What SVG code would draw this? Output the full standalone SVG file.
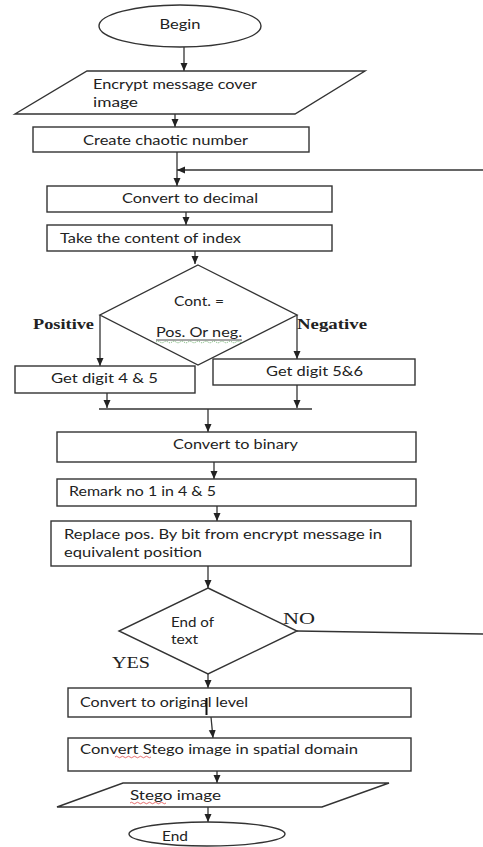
<svg xmlns="http://www.w3.org/2000/svg" width="483" height="847" viewBox="0 0 483 847">
<style>
.s{fill:#fff;stroke:#333;stroke-width:1.4}
.c{stroke:#333;stroke-width:1.3;fill:none}
.t{font-family:Lato,"Open Sans","Liberation Sans",sans-serif;font-size:14px;fill:#222}
.b{font-family:"Liberation Serif",serif;font-size:15px;font-weight:bold;fill:#222}
.r{font-family:"Liberation Serif",serif;font-size:16px;font-weight:normal;fill:#222}
.m{text-anchor:middle}
</style>
<defs>
<marker id="a" markerUnits="userSpaceOnUse" markerWidth="8" markerHeight="8" refX="8" refY="4" orient="auto">
<path d="M0,0.5 L8,4 L0,7.5 z" fill="#222"/>
</marker>
</defs>
<g id="connectors">
<line class="c" x1="184" y1="47" x2="184" y2="71" marker-end="url(#a)"/>
<line class="c" x1="175" y1="114" x2="175" y2="127" marker-end="url(#a)"/>
<line class="c" x1="177" y1="152" x2="177" y2="186" marker-end="url(#a)"/>
<line class="c" x1="483" y1="170" x2="177" y2="170" marker-end="url(#a)"/>
<line class="c" x1="186" y1="212" x2="186" y2="225" marker-end="url(#a)"/>
<line class="c" x1="195" y1="251" x2="195" y2="264" marker-end="url(#a)"/>
<line class="c" x1="100" y1="315" x2="100" y2="366" marker-end="url(#a)"/>
<line class="c" x1="297" y1="315" x2="297" y2="359" marker-end="url(#a)"/>
<line class="c" x1="107" y1="393" x2="107" y2="408" marker-end="url(#a)"/>
<line class="c" x1="297" y1="385" x2="297" y2="408" marker-end="url(#a)"/>
<line class="c" x1="99" y1="409" x2="312" y2="409"/>
<line class="c" x1="208" y1="409" x2="208" y2="432" marker-end="url(#a)"/>
<line class="c" x1="214" y1="462" x2="214" y2="479" marker-end="url(#a)"/>
<line class="c" x1="217" y1="506" x2="217" y2="521" marker-end="url(#a)"/>
<line class="c" x1="208" y1="566" x2="208" y2="588" marker-end="url(#a)"/>
<line class="c" x1="297" y1="631" x2="483" y2="634"/>
<line class="c" x1="208" y1="674" x2="208" y2="688" marker-end="url(#a)"/>
<line class="c" x1="211" y1="717" x2="213" y2="738" marker-end="url(#a)"/>
<line class="c" x1="217" y1="771" x2="217" y2="783" marker-end="url(#a)"/>
<line class="c" x1="208" y1="807" x2="208" y2="822" marker-end="url(#a)"/>
</g>
<g id="begin">
<ellipse class="s" cx="180" cy="26" rx="81" ry="21"/>
<text class="t m" x="180" y="29" textLength="41" lengthAdjust="spacingAndGlyphs">Begin</text>
</g>
<g id="input">
<polygon class="s" points="87,71 365,71 295,114 15,114"/>
<text class="t" x="93" y="89" textLength="164" lengthAdjust="spacingAndGlyphs">Encrypt message cover</text>
<text class="t" x="93" y="107" textLength="45" lengthAdjust="spacingAndGlyphs">image</text>
</g>
<g id="chaotic">
<rect class="s" x="33" y="127" width="276" height="25"/>
<text class="t" x="83" y="145" textLength="165" lengthAdjust="spacingAndGlyphs">Create chaotic number</text>
</g>
<g id="decimal">
<rect class="s" x="47" y="186" width="285" height="26"/>
<text class="t" x="122" y="203" textLength="136" lengthAdjust="spacingAndGlyphs">Convert to decimal</text>
</g>
<g id="index">
<rect class="s" x="47" y="225" width="285" height="26"/>
<text class="t" x="60" y="243" textLength="181" lengthAdjust="spacingAndGlyphs">Take the content of index</text>
</g>
<g id="decision1">
<polygon class="s" points="198,265 297,315 198,365 100,315"/>
<text class="t" x="174" y="306" textLength="50" lengthAdjust="spacingAndGlyphs">Cont. =</text>
<text class="t" x="156" y="337" textLength="86" lengthAdjust="spacingAndGlyphs">Pos. Or neg.</text>
<line x1="156" y1="340" x2="242" y2="340" stroke="#222" stroke-width="0.8"/>
<path d="M156,342 q2,-1.5 4,0 t4,0 t4,0 t4,0 t4,0 t4,0 t4,0 t4,0 t4,0 t4,0 t4,0 t4,0 t4,0 t4,0 t4,0 t4,0 t4,0 t4,0 t4,0 t4,0 t4,0 t2,0" fill="none" stroke="#4a9a4a" stroke-width="0.8" stroke-dasharray="1,1"/>
<text class="b" x="33" y="329" textLength="61" lengthAdjust="spacingAndGlyphs">Positive</text>
<text class="b" x="297" y="329" textLength="70" lengthAdjust="spacingAndGlyphs">Negative</text>
</g>
<g id="digit45">
<rect class="s" x="15" y="366" width="180" height="27"/>
<text class="t" x="51" y="383" textLength="107" lengthAdjust="spacingAndGlyphs">Get digit 4 &amp; 5</text>
</g>
<g id="digit56">
<rect class="s" x="213" y="359" width="202" height="26"/>
<text class="t" x="266" y="376" textLength="97" lengthAdjust="spacingAndGlyphs">Get digit 5&amp;6</text>
</g>
<g id="binary">
<rect class="s" x="57" y="432" width="359" height="30"/>
<text class="t" x="173" y="449" textLength="125" lengthAdjust="spacingAndGlyphs">Convert to binary</text>
</g>
<g id="remark">
<rect class="s" x="57" y="479" width="359" height="27"/>
<text class="t" x="69" y="496" textLength="147" lengthAdjust="spacingAndGlyphs">Remark no 1 in 4 &amp; 5</text>
</g>
<g id="replace">
<rect class="s" x="51" y="521" width="360" height="45"/>
<text class="t" x="64" y="539" textLength="318" lengthAdjust="spacingAndGlyphs">Replace pos. By bit from encrypt message in</text>
<text class="t" x="64" y="557" textLength="138" lengthAdjust="spacingAndGlyphs">equivalent position</text>
</g>
<g id="decision2">
<polygon class="s" points="208,588 297,631 208,674 119,631"/>
<text class="t" x="171" y="627" textLength="43" lengthAdjust="spacingAndGlyphs">End of</text>
<text class="t" x="171" y="644" textLength="27" lengthAdjust="spacingAndGlyphs">text</text>
<text class="r" x="283" y="624" textLength="32" lengthAdjust="spacingAndGlyphs">NO</text>
<text class="r" x="112" y="668" textLength="38" lengthAdjust="spacingAndGlyphs">YES</text>
</g>
<g id="original">
<rect class="s" x="68" y="688" width="343" height="29"/>
<text class="t" x="80" y="707" textLength="168" lengthAdjust="spacingAndGlyphs">Convert to original level</text>
<line x1="206.5" y1="698" x2="206.5" y2="715" stroke="#111" stroke-width="2"/>
</g>
<g id="spatial">
<rect class="s" x="68" y="738" width="343" height="33"/>
<text class="t" x="80" y="754" textLength="278" lengthAdjust="spacingAndGlyphs">Convert Stego image in spatial domain</text>
<path d="M115,757 q1.5,-1.5 3,0 t3,0 t3,0 t3,0 t3,0 t3,0 t3,0 t3,0 t3,0 t3,0 t3,0 t3,0" fill="none" stroke="#d33" stroke-width="0.7"/>
</g>
<g id="output">
<polygon class="s" points="123,783 389,783 322,807 57,807"/>
<text class="t" x="130" y="800" textLength="91" lengthAdjust="spacingAndGlyphs">Stego image</text>
<path d="M130,803 q1.5,-1.5 3,0 t3,0 t3,0 t3,0 t3,0 t3,0 t3,0 t3,0 t3,0 t3,0 t3,0 t3,0" fill="none" stroke="#d33" stroke-width="0.7"/>
</g>
<g id="end">
<ellipse class="s" cx="207" cy="834" rx="78" ry="12"/>
<text class="t" x="162" y="841" textLength="26" lengthAdjust="spacingAndGlyphs">End</text>
</g>
</svg>
